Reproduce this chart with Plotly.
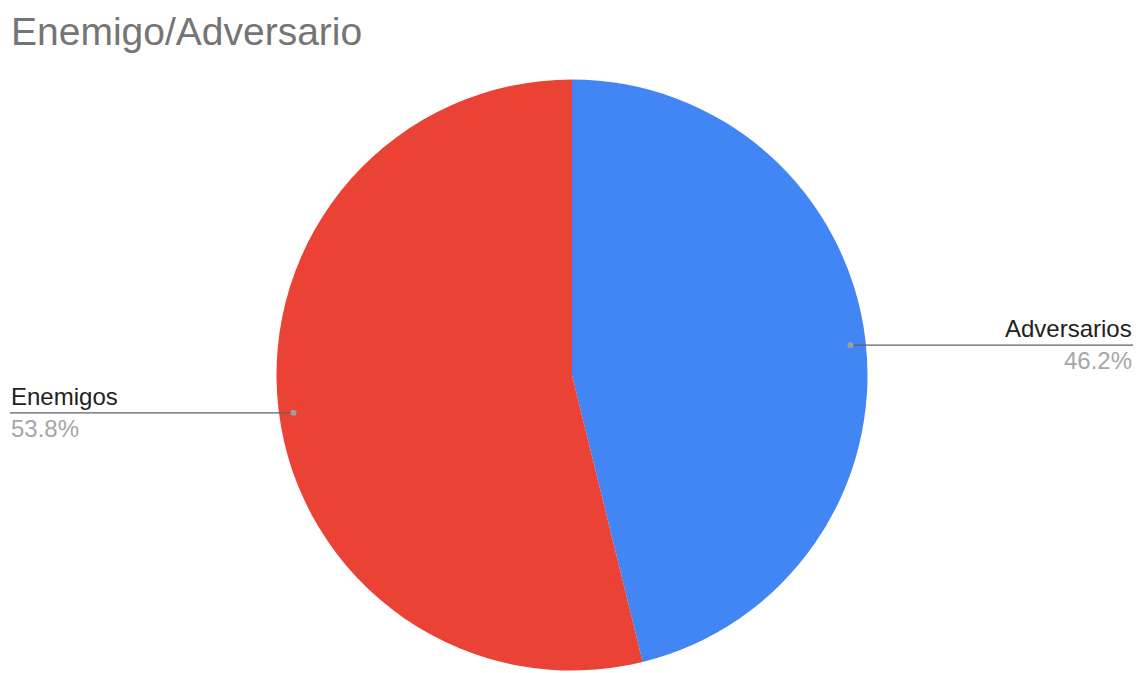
import math
import plotly.graph_objects as go

# Data
categories = ["Adversarios", "Enemigos"]
values = [6, 7]
colors = ["#4285F4", "#EA4335"]
title_text = "Enemigo/Adversario"

W, H = 1138, 673
cx, cy, R = 572.0, 375.0, 295.5  # pie centre / radius in pixels

fig = go.Figure(go.Pie(
    labels=categories,
    values=values,
    marker=dict(colors=colors, line=dict(width=0)),
    sort=False,
    direction="clockwise",
    rotation=0,
    textinfo="none",
    hoverinfo="label+percent",
    showlegend=False,
    domain=dict(x=[(cx - R) / W, (cx + R) / W], y=[1 - (cy + R) / H, 1 - (cy - R) / H]),
))

def px(x):
    return x / W

def py(y):
    return 1 - y / H

total = sum(values)
cum = 0.0
shapes = []
annotations = []
for cat, v in zip(categories, values):
    frac = v / total
    mid = (cum + frac / 2) * 2 * math.pi  # clockwise from top
    cum += frac
    rd = R - 15
    dx = cx + rd * math.sin(mid)
    dy = cy + 4 - rd * math.cos(mid)
    right = math.sin(mid) >= 0
    ex = W - 5 if right else 10
    shapes.append(dict(type="line", xref="paper", yref="paper",
                       x0=px(dx), y0=py(dy), x1=px(ex), y1=py(dy),
                       line=dict(color="#616161", width=1.3)))
    shapes.append(dict(type="circle", xref="paper", yref="paper",
                       x0=px(dx - 3), x1=px(dx + 3), y0=py(dy - 3), y1=py(dy + 3),
                       fillcolor="#9e9e9e", line=dict(width=0)))
    anchor = "right" if right else "left"
    annotations.append(dict(text=cat, xref="paper", yref="paper", x=px(ex), y=py(dy - 2),
                            xanchor=anchor, yanchor="bottom", showarrow=False, borderpad=0,
                            font=dict(family="Arial, Liberation Sans", size=24, color="#222222")))
    annotations.append(dict(text=f"{frac*100:.1f}%", xref="paper", yref="paper", x=px(ex), y=py(dy + 1),
                            xanchor=anchor, yanchor="top", showarrow=False, borderpad=0,
                            font=dict(family="Arial, Liberation Sans", size=24, color="#a6a6a6")))

annotations.append(dict(text=title_text, xref="paper", yref="paper", x=px(10), y=py(9),
                        xanchor="left", yanchor="top", showarrow=False, borderpad=0,
                        font=dict(family="Arial, Liberation Sans", size=39, color="#757575")))

fig.update_layout(
    width=W, height=H,
    margin=dict(l=0, r=0, t=0, b=0),
    paper_bgcolor="white",
    plot_bgcolor="white",
    shapes=shapes,
    annotations=annotations,
)

fig.write_html("out.html", config={"displayModeBar": False},
               post_script="document.body.style.margin='0';document.body.style.overflow='hidden';")
